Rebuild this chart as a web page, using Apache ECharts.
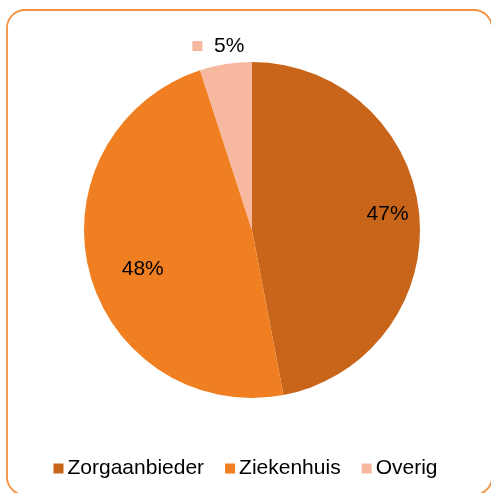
<!DOCTYPE html>
<html>
<head>
<meta charset="utf-8">
<script src="https://cdn.jsdelivr.net/npm/echarts@6/dist/echarts.min.js"></script>
<style>
  html, body { margin: 0; padding: 0; background: #fff; }
  #chart { width: 491px; height: 493px; }
</style>
</head>
<body>
<div id="chart"></div>
<script>
// data
const categories = ['Zorgaanbieder', 'Ziekenhuis', 'Overig']
const shares = [47, 48, 5]
const colors = ['#C8651B', '#F07F22', '#F7B8A0']
// small nudges so the labels sit where the original put them
const labelOffsets = [[49, -8], [-25, 18], [-20, -98]]

const FONT = '"Liberation Sans", Arial, sans-serif'

const chart = echarts.init(document.getElementById('chart'))

const option = {
  animation: false,
  color: colors,
  graphic: [{
    type: 'rect',
    shape: { x: 7, y: 10, width: 485, height: 485, r: 18 },
    style: { fill: 'none', stroke: '#F59240', lineWidth: 1.8 },
    silent: true
  }],
  legend: {
    data: categories,
    bottom: 9,
    left: 'center',
    icon: 'rect',
    itemWidth: 10,
    itemHeight: 10,
    itemGap: 21,
    textStyle: { fontFamily: FONT, fontSize: 21, color: '#000', padding: [0, 0, 0, -1] }
  },
  series: [{
    type: 'pie',
    center: [252, 230],
    radius: 168,
    startAngle: 90,
    clockwise: true,
    emphasis: { disabled: true },
    labelLine: { show: false },
    label: {
      show: true,
      position: 'inside',
      fontFamily: FONT,
      fontSize: 21,
      color: '#000',
      formatter: p => p.value + '%'
    },
    data: categories.map((name, i) => {
      const item = { name, value: shares[i], label: { offset: labelOffsets[i] } }
      if (name === 'Overig') {
        item.label.formatter = p => '{sq|}  ' + p.value + '%'
        item.label.rich = {
          sq: { width: 10, height: 10, backgroundColor: colors[i] }
        }
      }
      return item
    })
  }]
}

chart.setOption(option)
</script>
</body>
</html>
